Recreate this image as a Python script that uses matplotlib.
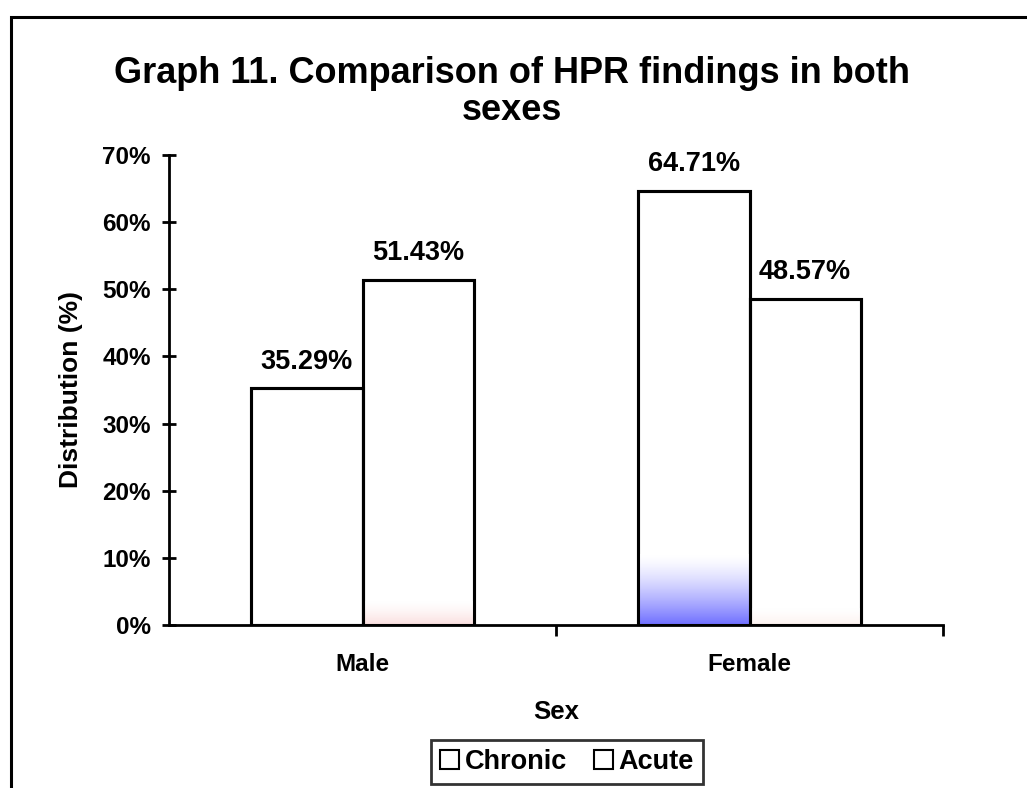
import numpy as np
import matplotlib.pyplot as plt
from matplotlib.patches import Rectangle
from matplotlib.colors import LinearSegmentedColormap

plt.rcParams['font.family'] = ['Liberation Sans', 'DejaVu Sans']
plt.rcParams['font.weight'] = 'bold'

sexes = ['Male', 'Female']
chronic = [35.29, 64.71]
acute = [51.43, 48.57]
series_names = ['Chronic', 'Acute']

fig = plt.figure(figsize=(10.27, 7.88), dpi=100)
ax = fig.add_axes([169/1027, 1 - 625/788, (943-169)/1027, (625-155)/788])

# outer chart frame
fig.patches.append(Rectangle((10.5/1027, -0.1), 1.2, 1 - 16.5/788 + 0.1,
                             transform=fig.transFigure, fill=False,
                             edgecolor='black', linewidth=2.2, zorder=0))

x = np.arange(len(sexes))
w = 0.287
b1 = ax.bar(x - w/2, chronic, w, color='white', edgecolor='black', linewidth=2.2, zorder=3)
b2 = ax.bar(x + w/2, acute, w, color='white', edgecolor='black', linewidth=2.2, zorder=3)

def fade(bar, color, top, strength):
    # vertical fade: full colour at the base, white at `top`
    cmap = LinearSegmentedColormap.from_list('f', ['white', color])
    grad = np.linspace(1, 0, 100).reshape(-1, 1) ** 1.4 * strength
    x0 = bar.get_x()
    ax.imshow(grad, cmap=cmap, vmin=0, vmax=1, aspect='auto', origin='lower',
              extent=[x0, x0 + bar.get_width(), 0, top], zorder=3.5,
              interpolation='bilinear')

fade(b1[1], '#7070ff', 10.5, 1.0)
fade(b2[0], '#f8d0d0', 3.5, 0.7)
fade(b2[1], '#f8d8d0', 2.5, 0.35)

# redraw outlines above the gradients
for bar in list(b1) + list(b2):
    ax.add_patch(Rectangle((bar.get_x(), 0), bar.get_width(), bar.get_height(),
                           fill=False, edgecolor='black', linewidth=2.2, zorder=4))

for bars, vals in ((b1, chronic), (b2, acute)):
    for bar, v in zip(bars, vals):
        ax.text(bar.get_x() + bar.get_width()/2, v + 2.0, f'{v:.2f}%',
                ha='center', va='bottom', fontsize=19.5, fontweight='bold')

ax.set_xlim(-0.5, 1.5)
ax.set_ylim(0, 70)
ax.set_yticks(np.arange(0, 71, 10))
ax.set_yticklabels([f'{v}%' for v in range(0, 71, 10)])
ax.set_xticks([0.5, 1.5])
ax.set_xticks(x, minor=True)
ax.set_xticklabels([])
ax.set_xticklabels(sexes, minor=True)
ax.tick_params(axis='x', which='major', length=8, width=2, direction='out')
ax.tick_params(axis='x', which='minor', length=0, pad=20.5, labelsize=17.5)
ax.tick_params(axis='y', length=10, width=2, direction='inout', labelsize=17.5, pad=8)

for s in ['top', 'right']:
    ax.spines[s].set_visible(False)
for s in ['left', 'bottom']:
    ax.spines[s].set_linewidth(2)

ax.set_xlabel('Sex', fontsize=18.5, fontweight='bold', labelpad=17)
ax.set_ylabel('Distribution (%)', fontsize=19, fontweight='bold', labelpad=14)

fig.text(512/1027, 1 - 92/788, 'Graph 11. Comparison of HPR findings in both\nsexes',
         ha='center', va='center', fontsize=26, fontweight='bold', linespacing=1.05)

handles = [Rectangle((0, 0), 1, 1, facecolor='white', edgecolor='black', linewidth=1.5)
           for _ in series_names]
leg = fig.legend(handles, series_names, loc='center', bbox_to_anchor=(567/1027, 1 - 762/788),
                 ncol=2, fontsize=19.5, frameon=True, fancybox=False, handlelength=0.7,
                 handleheight=0.7, handletextpad=0.2, columnspacing=1.0, borderpad=0.35)
leg.get_frame().set_edgecolor('black')
leg.get_frame().set_linewidth(2)

fig.savefig('out.png', dpi=100)
